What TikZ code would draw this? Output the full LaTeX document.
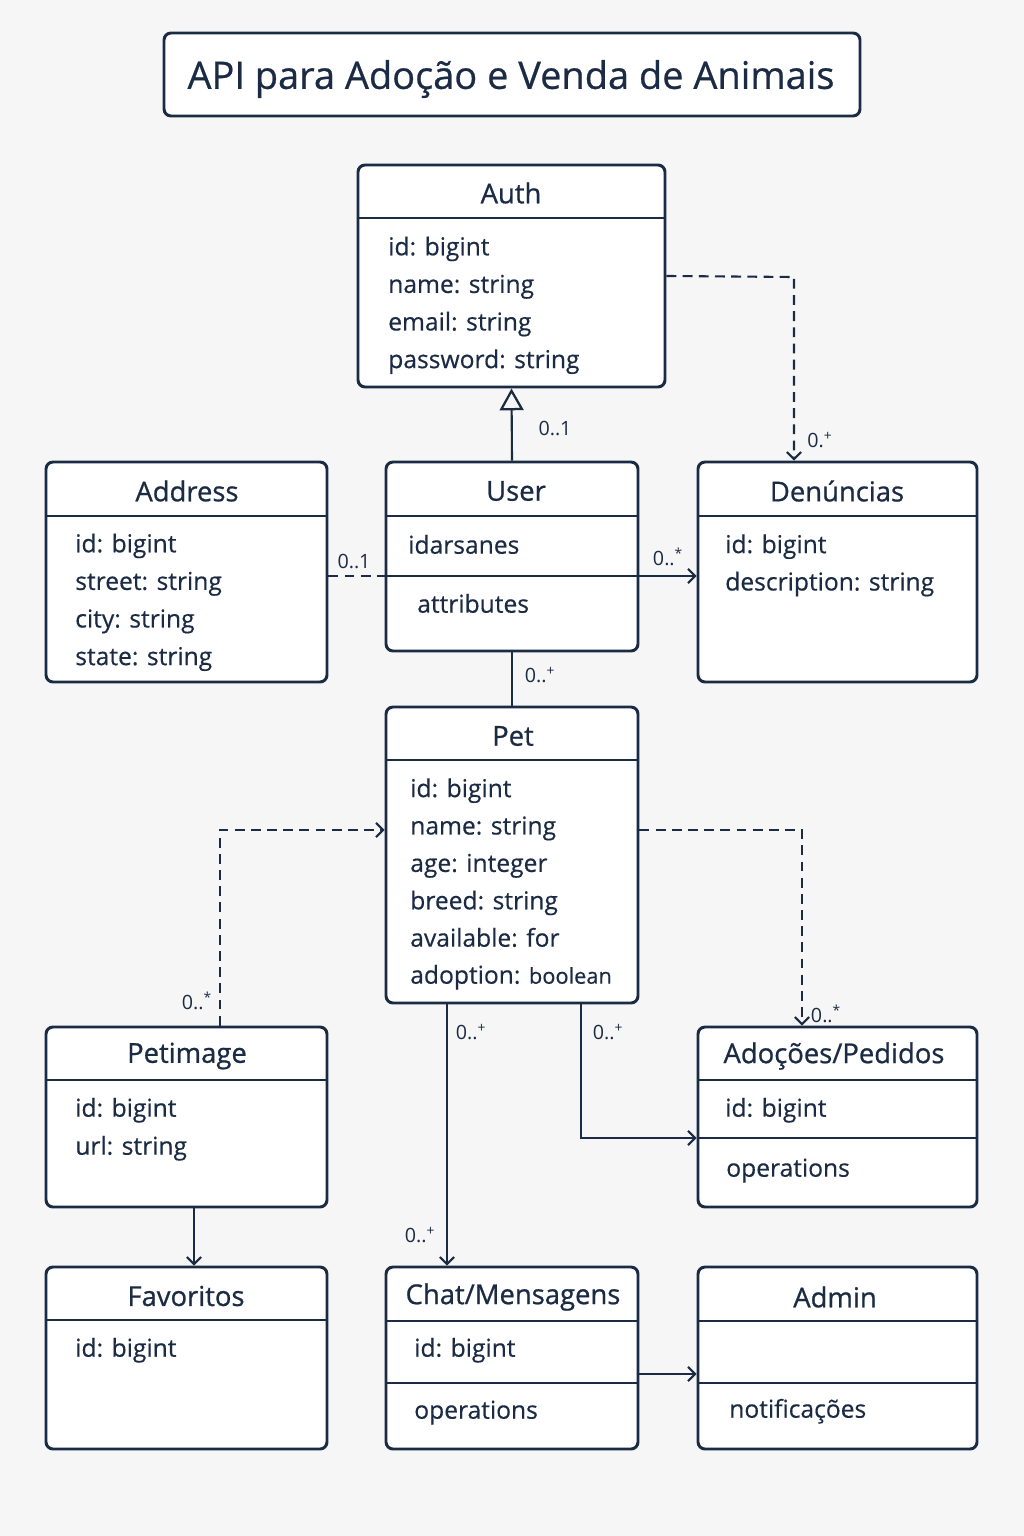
\documentclass[tikz,border=0pt]{standalone}
\usepackage{fontspec}
\setmainfont{Open Sans}
\usetikzlibrary{arrows.meta, fit}
\definecolor{ink}{HTML}{1B2B44}
\definecolor{paper}{HTML}{F6F6F6}

\begin{document}
\begin{tikzpicture}[
        x = 0.025cm, y = -0.025cm,
        > = {Straight Barb[length=5pt,width=10pt]},
  box/.style = {draw=ink, line width=2.1pt, rounded corners=5pt, fill=white,
                inner sep=0pt},
 rule/.style = {draw=ink, line width=2pt},
 head/.style = {text=ink, font=\fontsize{19.5}{22}\selectfont\addfontfeature{FakeBold=0.8}},
 attr/.style = {text=ink, font=\fontsize{17.5}{21}\selectfont\addfontfeature{FakeBold=0.4},
                anchor=mid west, inner sep=0pt, yshift=-3.5pt},
 mult/.style = {text=ink, font=\fontsize{14}{16}\selectfont, inner sep=0pt},
assoc/.style = {draw=ink, line width=1.5pt},
  dep/.style = {assoc, dash pattern=on 7pt off 4.5pt},
  gen/.style = {assoc, -{Triangle[open, length=15.5pt, width=17pt, line width=1.6pt]}}
                    ]
% background
    \fill[paper] (0,0) rectangle (1024,1536);
% title
    \node[box, fit={(164,33) (860,116)}] (title) {};
    \node[text=ink, font=\fontsize{27}{30}\selectfont\addfontfeature{FakeBold=0.6}] (titletext) at (511,79) {API para Adoção e Venda de Animais};
% classes
    \node[box, fit={(358,165) (665,387)}] (auth) {};
    \node[box, fit={(46,462) (327,682)}] (addr) {};
    \node[box, fit={(386,462) (638,651)}] (user) {};
    \node[box, fit={(698,462) (977,682)}] (den) {};
    \node[box, fit={(386,707) (638,1003)}] (pet) {};
    \node[box, fit={(46,1027) (327,1207)}] (pimg) {};
    \node[box, fit={(698,1027) (977,1207)}] (adoc) {};
    \node[box, fit={(46,1267) (327,1449)}] (fav) {};
    \node[box, fit={(386,1267) (638,1449)}] (chat) {};
    \node[box, fit={(698,1267) (977,1449)}] (admin) {};
% compartment lines
    \draw[rule] (358,218) -- (665,218);
    \draw[rule] (46,516) -- (327,516);
    \draw[rule] (386,516) -- (638,516);
    \draw[rule] (698,516) -- (977,516);
    \draw[rule] (386,760) -- (638,760);
    \draw[rule] (46,1080) -- (327,1080);
    \draw[rule] (698,1080) -- (977,1080);
    \draw[rule] (698,1138) -- (977,1138);
    \draw[rule] (46,1320) -- (327,1320);
    \draw[rule] (386,1321) -- (638,1321);
    \draw[rule] (386,1383) -- (638,1383);
    \draw[rule] (698,1321) -- (977,1321);
    \draw[rule] (698,1383) -- (977,1383);
% class names
    \node[head] (auth-h)  at (511,193)  {Auth};
    \node[head] (addr-h)  at (187,491)  {Address};
    \node[head] (user-h)  at (516,491)  {User};
    \node[head] (den-h)   at (837,491)  {Denúncias};
    \node[head] (pet-h)   at (513,736)  {Pet};
    \node[head] (pimg-h)  at (187,1056) {Petimage};
    \node[head] (adoc-h)  at (834,1056) {Adoções/Pedidos};
    \node[head] (fav-h)   at (186,1296) {Favoritos};
    \node[head] (chat-h)  at (513,1297) {Chat/Mensagens};
    \node[head] (admin-h) at (835,1297) {Admin};
% attributes
    \foreach \t [count=\i] in {id: bigint, name: string, email: string, password: string}
        \node[attr] (auth-\i) at (388,209+37.6*\i) {\t};
    \foreach \t [count=\i] in {id: bigint, street: string, city: string, state: string}
        \node[attr] (addr-\i) at (75,506+37.6*\i) {\t};
    \foreach \t [count=\i] in {id: bigint, description: string}
        \node[attr] (den-\i) at (725,507+37.4*\i) {\t};
    \foreach \t [count=\i] in {id: bigint, name: string, age: integer, breed: string, available: for}
        \node[attr] (pet-\i) at (410,751+37.4*\i) {\t};
    \node[attr] (pet-6) at (410,975) {adoption: {\fontsize{15.5}{18}\selectfont boolean}};
    \node[attr] (user-1) at (408,545) {idarsanes};
    \node[attr] (user-2) at (417,604) {attributes};
    \node[attr] (pimg-1) at (75,1108) {id: bigint};
    \node[attr] (pimg-2) at (75,1146) {url: string};
    \node[attr] (adoc-1) at (725,1108) {id: bigint};
    \node[attr] (adoc-2) at (726,1168) {operations};
    \node[attr] (fav-1)  at (75,1348)  {id: bigint};
    \node[attr] (chat-1) at (414,1348) {id: bigint};
    \node[attr] (chat-2) at (414,1410) {operations};
    \node[attr] (admin-1) at (729,1409) {notificações};
% bend points
    \coordinate (b1) at (794,277);
    \coordinate (b2) at (386,576);
    \coordinate (b3) at (220,830);
    \coordinate (b4) at (802,830);
    \coordinate (b5) at (447,1100);
    \coordinate (b6) at (581,1138);
    \coordinate (b7) at (194,1240);
    \coordinate (b8) at (660,1374);
% relations
    \draw[gen] (user.north) -- (auth.south);
    \draw[dep, ->] (auth.east) -- (b1) -- (b1 |- den.north);
    \draw[dep] (addr.east |- b2) -- (b2);
    \draw[assoc, ->] (b2) -- (b2 -| den.west);
    \draw[assoc] (user.south) -- (pet.north);
    \draw[dep, ->] (b3 |- pimg.north) -- (b3) -- (b3 -| pet.west);
    \draw[dep, ->] (b4 -| pet.east) -- (b4) -- (b4 |- adoc.north);
    \draw[assoc, ->] (b5 |- pet.south) -- (b5 |- chat.north);
    \draw[assoc, ->] (b6 |- pet.south) -- (b6) -- (b6 -| adoc.west);
    \draw[assoc, ->] (b7 |- pimg.south) -- (b7 |- fav.north);
    \draw[assoc, ->] (b8 -| chat.east) -- (b8 -| admin.west);
% multiplicities
    \node[mult] (m1)  at (555,429)  {0..1};
    \node[mult] (m2)  at (820,440)  {0.\textsuperscript{+}};
    \node[mult] (m3)  at (354,561)  {0..1};
    \node[mult] (m4)  at (668,557)  {0..\textsuperscript{*}};
    \node[mult] (m5)  at (540,675)  {0..\textsuperscript{+}};
    \node[mult] (m6)  at (197,1001) {0..\textsuperscript{*}};
    \node[mult] (m7)  at (826,1014) {0..\textsuperscript{*}};
    \node[mult] (m8)  at (471,1032) {0..\textsuperscript{+}};
    \node[mult] (m9)  at (608,1032) {0..\textsuperscript{+}};
    \node[mult] (m10) at (420,1235) {0..\textsuperscript{+}};
\end{tikzpicture}
\end{document}
